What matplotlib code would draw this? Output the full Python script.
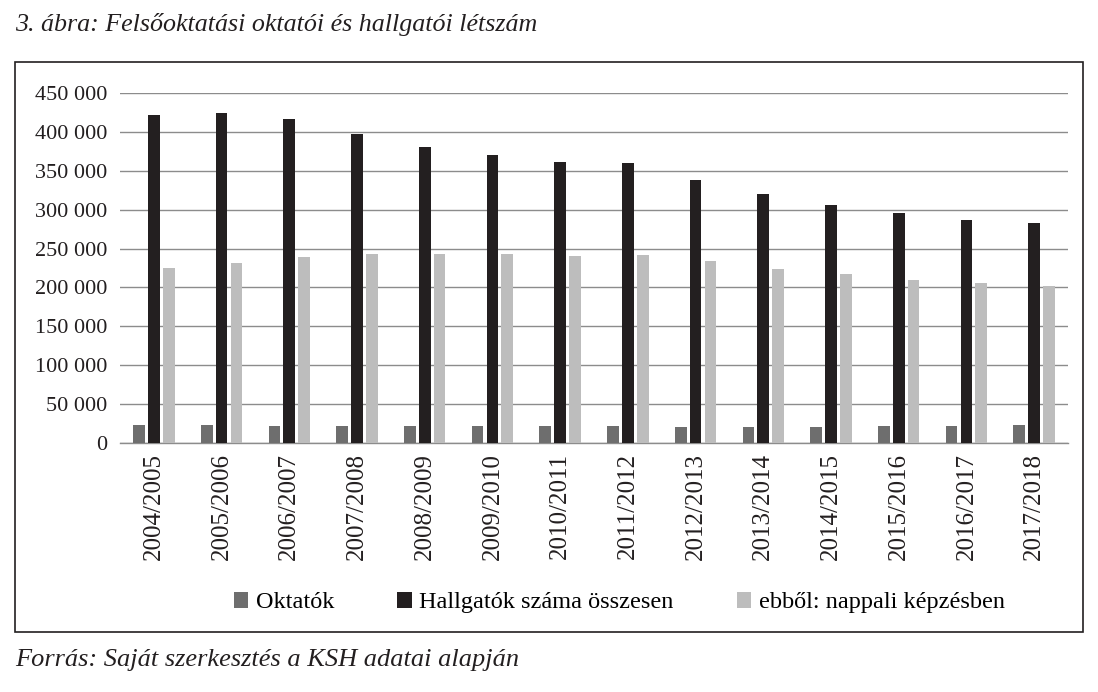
import matplotlib
matplotlib.use("Agg")
import matplotlib.pyplot as plt
import numpy as np
from matplotlib.patches import Rectangle

years = ["2004/2005", "2005/2006", "2006/2007", "2007/2008", "2008/2009",
         "2009/2010", "2010/2011", "2011/2012", "2012/2013", "2013/2014",
         "2014/2015", "2015/2016", "2016/2017", "2017/2018"]

oktatok = [23600, 23100, 21900, 22300, 22300, 21900, 21400,
           21400, 21000, 21000, 21000, 21400, 22300, 23100]
hallgatok = [421300, 423900, 416200, 397300, 380600, 369900, 361300,
             359600, 338600, 320200, 306400, 295300, 286700, 283300]
nappali = [225000, 231400, 238700, 243000, 243000, 243000, 240900,
           241700, 233600, 223700, 217300, 210000, 205700, 202300]

series_names = ["Oktatók", "Hallgatók száma összesen", "ebből: nappali képzésben"]
series_colors = ["#6e6e6e", "#231f20", "#bdbdbd"]

plt.rcParams["font.family"] = ["Liberation Serif", "DejaVu Serif"]

fig = plt.figure(figsize=(10.98, 6.92), dpi=100)
ax = fig.add_axes([0.1093, 0.3598, 0.8634, 0.5058])

x = np.arange(len(years))
width = 0.173
offset = 0.22

for i, (vals, name, color) in enumerate(zip([oktatok, hallgatok, nappali],
                                            series_names, series_colors)):
    ax.bar(x + (i - 1) * offset, vals, width=width, color=color,
           label=name, zorder=3)

ax.set_xlim(-0.5, len(years) - 0.5)
ax.set_ylim(0, 450000)
ax.set_yticks(np.arange(0, 450001, 50000))
ax.set_yticklabels([f"{v:,}".replace(",", " ") for v in range(0, 450001, 50000)],
                   fontsize=16, color="#231f20")
ax.set_xticks(x)
ax.set_xticklabels(years, rotation=90, fontsize=18, color="#231f20")
ax.tick_params(axis="x", length=0, pad=7)
ax.tick_params(axis="y", length=0, pad=9)

ax.grid(axis="y", color="#8c8c8c", linewidth=1, zorder=0)
for side in ["top", "right", "left"]:
    ax.spines[side].set_visible(False)
ax.spines["bottom"].set_color("#8c8c8c")
ax.spines["bottom"].set_linewidth(1)

fig.legend(loc="center", bbox_to_anchor=(0.564, 0.129), ncol=3, frameon=False,
           fontsize=17.5, handlelength=0.6, handleheight=0.6, handletextpad=0.3,
           columnspacing=2.6)

fig.patches.append(Rectangle((15 / 1098, 1 - 632 / 692), 1068 / 1098, 570 / 692,
                             transform=fig.transFigure, fill=False,
                             edgecolor="#231f20", linewidth=1.2))

fig.text(15 / 1098, 1 - 25 / 692, "3. ábra: Felsőoktatási oktatói és hallgatói létszám",
         fontsize=18.7, style="italic", va="center", ha="left", color="#231f20")
fig.text(15 / 1098, 1 - 660 / 692, "Forrás: Saját szerkesztés a KSH adatai alapján",
         fontsize=19, style="italic", va="center", ha="left", color="#231f20")

fig.savefig("out.png", dpi=100)
